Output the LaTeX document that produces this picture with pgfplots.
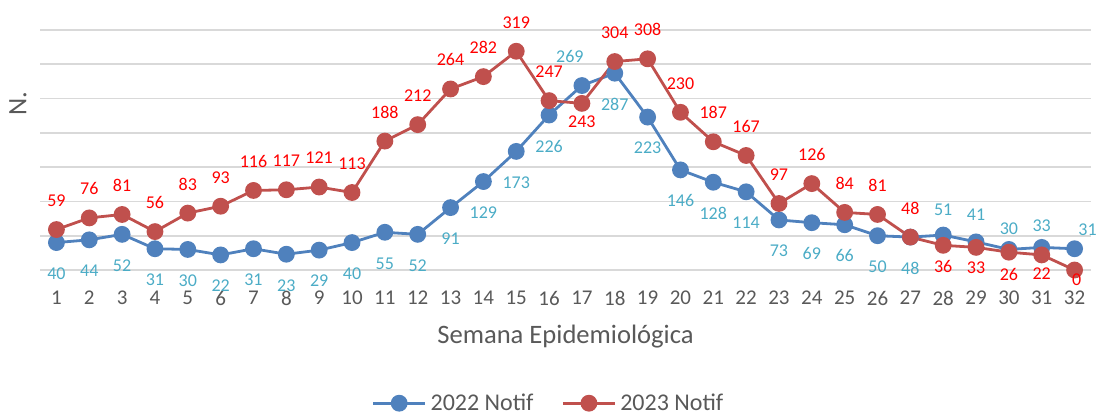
\documentclass[border=0pt]{standalone}
\usepackage{pgfplots}
\pgfplotsset{compat=1.18}
\usepackage{pgfplotstable}
\usepackage{fontspec}
\setmainfont{Carlito}

\definecolor{s22}{HTML}{4F81BD}
\definecolor{s23}{HTML}{C0504D}
\definecolor{lab22}{HTML}{4BACC6}
\definecolor{lab23}{HTML}{FF0000}
\definecolor{txtgray}{HTML}{595959}
\definecolor{gridgray}{HTML}{D9D9D9}

% week, value, label shift (px)
\pgfplotstableread{
x y dx dy
1 40 0 -31
2 44 0 -31
3 52 0 -31
4 31 0 -31
5 30 0 -31
6 22 0 -31
7 31 0 -31
8 23 0 -31
9 29 0 -31
10 40 0 -31
11 55 0 -31
12 52 0 -31
13 91 0 -31
14 129 0 -31
15 173 0 -31
16 226 0 -31
17 269 -12 29
18 287 0 -31
19 223 0 -31
20 146 0 -31
21 128 0 -31
22 114 0 -31
23 73 0 -31
24 69 0 -31
25 66 0 -31
26 50 0 -31
27 48 0 -31
28 51 0 25
29 41 0 27
30 30 0 21
31 33 0 22
32 31 13 19
}\tabA

\pgfplotstableread{
x y dx dy
1 59 0 29
2 76 0 29
3 81 0 29
4 56 0 29
5 83 0 29
6 93 0 29
7 116 0 29
8 117 0 29
9 121 0 29
10 113 0 29
11 188 0 29
12 212 0 29
13 264 0 29
14 282 0 29
15 319 0 29
16 247 0 29
17 243 0 -18
18 304 0 29
19 308 0 29
20 230 0 29
21 187 0 29
22 167 0 29
23 97 0 29
24 126 0 29
25 84 0 29
26 81 0 29
27 48 0 29
28 36 0 -21
29 33 0 -20
30 26 0 -22
31 22 0 -19
32 0 2 -10
}\tabB

\begin{document}
\begin{tikzpicture}
\path[use as bounding box] (-20pt,-72pt) rectangle (529.5pt,135pt);
\begin{axis}[
    scale only axis,
    width=525.5pt, height=120pt,
    xmin=0.5, xmax=32.5,
    ymin=0, ymax=350,
    xtick={1,...,32},
    ytick={0,50,...,350},
    yticklabels={},
    ymajorgrids,
    grid style={gridgray, line width=0.9pt},
    axis line style={draw=none},
    tick style={draw=none},
    /pgf/number format/assume math mode=true,
    xticklabel style={anchor=center, yshift=-14pt, text=txtgray, font=\fontsize{10.5}{11}\selectfont},
    xlabel={Semana Epidemiológica},
    xlabel style={at={(axis description cs:0.5,0)}, anchor=center, yshift=-33.5pt, text=txtgray, font=\fontsize{13.3}{14}\selectfont},
    ylabel={N.},
    ylabel style={at={(axis description cs:-0.0209,0.6917)}, anchor=center, text=txtgray, font=\fontsize{13.3}{14}\selectfont},
    clip=false,
    legend columns=2,
    legend style={at={(axis description cs:0.4848,-0.555)}, anchor=center, draw=none, fill=none,
        font=\fontsize{12}{13}\selectfont, text=txtgray,
        /tikz/every even column/.append style={column sep=12pt}},
    legend image code/.code={
        \draw[mark repeat=2,mark phase=2,#1] plot coordinates {(0pt,0pt) (13pt,0pt) (26pt,0pt)};
    },
]
\addplot[s22, line width=1.4pt, mark=*, mark size=3.5pt, mark options={solid, fill=s22, draw=s22},
    visualization depends on={\thisrow{dx}\as\dx},
    visualization depends on={\thisrow{dy}\as\dy},
    nodes near coords,
    every node near coord/.append style={anchor=center, xshift={\dx*0.5pt}, yshift={\dy*0.5pt},
        text=lab22, font=\fontsize{9}{10}\selectfont, inner sep=0pt},
] table[x=x, y=y] {\tabA};
\addlegendentry{2022 Notif}
\addplot[s23, line width=1.4pt, mark=*, mark size=3.5pt, mark options={solid, fill=s23, draw=s23},
    visualization depends on={\thisrow{dx}\as\dx},
    visualization depends on={\thisrow{dy}\as\dy},
    nodes near coords,
    every node near coord/.append style={anchor=center, xshift={\dx*0.5pt}, yshift={\dy*0.5pt},
        text=lab23, font=\fontsize{9}{10}\selectfont, inner sep=0pt},
] table[x=x, y=y] {\tabB};
\addlegendentry{2023 Notif}
\end{axis}
\end{tikzpicture}
\end{document}
